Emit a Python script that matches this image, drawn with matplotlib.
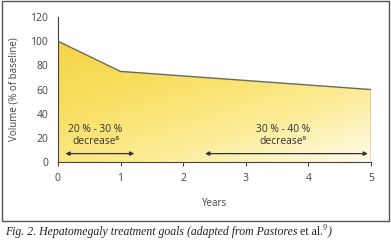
import numpy as np
import matplotlib.pyplot as plt
from matplotlib.colors import LinearSegmentedColormap
from matplotlib.patches import Rectangle

years = [0, 1, 5]
volume = [100, 75, 60]
x_ticks = [0, 1, 2, 3, 4, 5]
y_ticks = [0, 20, 40, 60, 80, 100, 120]
goal_ranges = [(0.12, 1.22), (2.35, 4.95)]
goal_labels = ["20 % - 30 %\ndecrease⁸", "30 % - 40 %\ndecrease⁹"]
goal_text_x = [0.6, 3.6]

plt.rcParams['font.family'] = ['Open Sans', 'DejaVu Sans']

fig = plt.figure(figsize=(3.91, 2.43), dpi=100)
fig.patches.append(Rectangle((0.004, 0.092), 0.99, 0.903, transform=fig.transFigure,
                             fill=False, edgecolor='#555555', linewidth=1.0))

ax = fig.add_axes([0.148, 0.333, 0.801, 0.597])
ax.set_xlim(0, 5)
ax.set_ylim(0, 120)

# diagonal gradient fill under the curve (dark top-left, pale bottom-right)
cmap = LinearSegmentedColormap.from_list('yel', ['#fefbea', '#fcec96', '#f9df62', '#f5d447'])
gy, gx = np.mgrid[0:1:200j, 0:1:200j]
grad = 0.55 * gy + 0.45 * (1 - gx)
img = ax.imshow(grad, extent=[0, 5, 0, 100], origin='lower', aspect='auto',
                cmap=cmap, vmin=0, vmax=1, zorder=1)
poly = ax.fill_between(years, volume, 0, facecolor='none', edgecolor='none')
img.set_clip_path(poly.get_paths()[0], transform=ax.transData)
ax.plot(years, volume, color='#6b6b5a', linewidth=1.0, zorder=3)
ax.plot([5, 5], [0, volume[-1]], color='#6b6b5a', linewidth=1.0, zorder=3)

for (x0, x1), lab, tx in zip(goal_ranges, goal_labels, goal_text_x):
    ax.annotate('', xy=(x0, 7), xytext=(x1, 7),
                arrowprops=dict(arrowstyle='<|-|>', color='#333333', lw=0.9,
                                mutation_scale=6, shrinkA=0, shrinkB=0), zorder=4)
    ax.text(tx, 22, lab, ha='center', va='center', fontsize=7.4, color='#333333',
            linespacing=1.05, zorder=4)

ax.set_xticks(x_ticks)
ax.set_yticks(y_ticks)
ax.tick_params(axis='x', direction='out', length=3, width=0.8, colors='#444444',
               labelsize=7.5, pad=5)
ax.tick_params(axis='y', length=0, colors='#444444', labelsize=7.5, pad=7)
for s in ['top', 'right']:
    ax.spines[s].set_visible(False)
for s in ['left', 'bottom']:
    ax.spines[s].set_color('#444444')
    ax.spines[s].set_linewidth(0.8)
ax.set_ylabel('Volume (% of baseline)', fontsize=7, color='#444444', labelpad=8)
ax.set_xlabel('Years', fontsize=7, color='#444444', labelpad=10)

# caption with mixed italic / upright parts
fig.canvas.draw()
r = fig.canvas.get_renderer()
cap_y = 0.045
parts = [('Fig. 2. Hepatomegaly treatment goals (adapted from Pastores ', 'italic', 8.5, 0),
         ('et al.', 'normal', 8.5, 0),
         ('9', 'italic', 5.5, 0.018),
         (')', 'italic', 8.5, 0)]
x = 0.012
for txt, st, fs, dy in parts:
    t = fig.text(x, cap_y + dy, txt, fontsize=fs, family='Liberation Serif', style=st,
                 color='#222222', va='center')
    x = t.get_window_extent(r).x1 / fig.bbox.width

fig.savefig('out.png', dpi=100)
